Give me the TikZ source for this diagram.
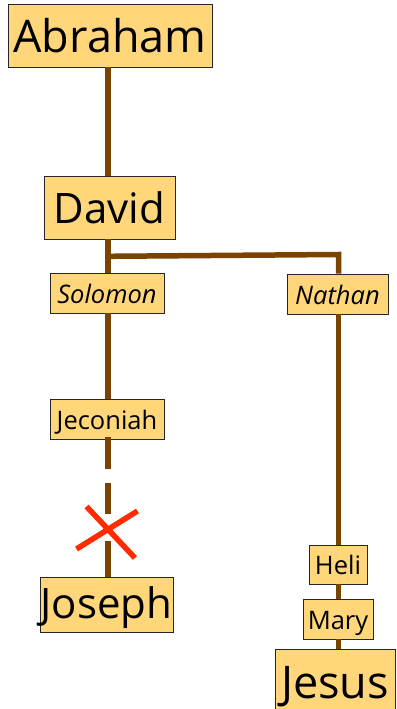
\documentclass[tikz,border=0pt]{standalone}
\usepackage{fontspec}
\setmainfont{Open Sans}
\definecolor{boxfill}{HTML}{FFD67A}
\definecolor{stem}{HTML}{7A4400}
\definecolor{cut}{HTML}{FF2A00}

\begin{document}
\begin{tikzpicture}[x=1pt,y=-1pt,
    person/.style={draw=black!85,fill=boxfill,inner sep=0pt,line width=.7pt},
    huge/.style={font=\fontsize{45}{45}\selectfont,text height=34.5pt,text depth=0pt},
    large/.style={font=\fontsize{42}{42}\selectfont,text height=31pt,text depth=0pt},
    small/.style={font=\fontsize{25.5}{25.5}\selectfont,text height=20pt,text depth=0pt},
    line/.style={stem,line width=5.5pt}]
    \useasboundingbox (0,0) rectangle (396,709);
    %the two lines of descent
    \coordinate (trunk) at (108,0);
    \coordinate (fork) at (108,256.3);
    \coordinate (corner) at (338.5,254.5);
    \node[person,huge,minimum width=204pt,minimum height=63pt] (abraham) at (110,35.5) {Abraham};
    \node[person,large,minimum width=131pt,minimum height=63pt] (david) at (109.5,207.5) {David};
    \node[person,small,minimum width=114pt,minimum height=40pt] (solomon) at (107,293) {\itshape Solomon};
    \node[person,small,minimum width=101pt,minimum height=40pt] (nathan) at (337.5,294) {\itshape Nathan};
    \node[person,small,minimum width=114pt,minimum height=40pt] (jeconiah) at (107,419) {Jeconiah};
    \node[person,large,text height=28pt,minimum width=133pt,minimum height=55pt] (joseph) at (106.5,604.5) {Joseph};
    \node[person,small,minimum width=58pt,minimum height=39pt] (heli) at (338,564.5) {Heli};
    \node[person,small,minimum width=70pt,minimum height=40pt] (mary) at (338,619) {Mary};
    \node[person,huge,minimum width=120pt,minimum height=65pt] (jesus) at (335,681.5) {Jesus};
    %connectors
    \draw[line] (abraham.south -| trunk) -- (david.north -| trunk);
    \draw[line] (david.south -| trunk) -- (solomon.north -| trunk);
    \draw[line] (fork) -- (corner) -- (nathan.north -| corner);
    \draw[line] (solomon.south -| trunk) -- (jeconiah.north -| trunk);
    \draw[line,dash pattern=on 31.5pt off 14pt on 31.5pt off 27pt on 40pt off 2pt]
        ([yshift=2pt]jeconiah.south -| trunk) -- (joseph.north -| trunk);
    \draw[line] (nathan.south -| corner) -- (heli.north -| corner);
    \draw[line] (heli.south -| corner) -- (mary.north -| corner);
    \draw[line] (mary.south -| corner) -- (jesus.north -| corner);
    %broken link
    \coordinate (cross) at (108.5,530);
    \draw[cut,line width=5.5pt] ([shift={(-22,-23.5)}]cross) -- ([shift={(26.5,28)}]cross)
        ([shift={(-32,19)}]cross) -- ([shift={(29,-19)}]cross);
\end{tikzpicture}
\end{document}
